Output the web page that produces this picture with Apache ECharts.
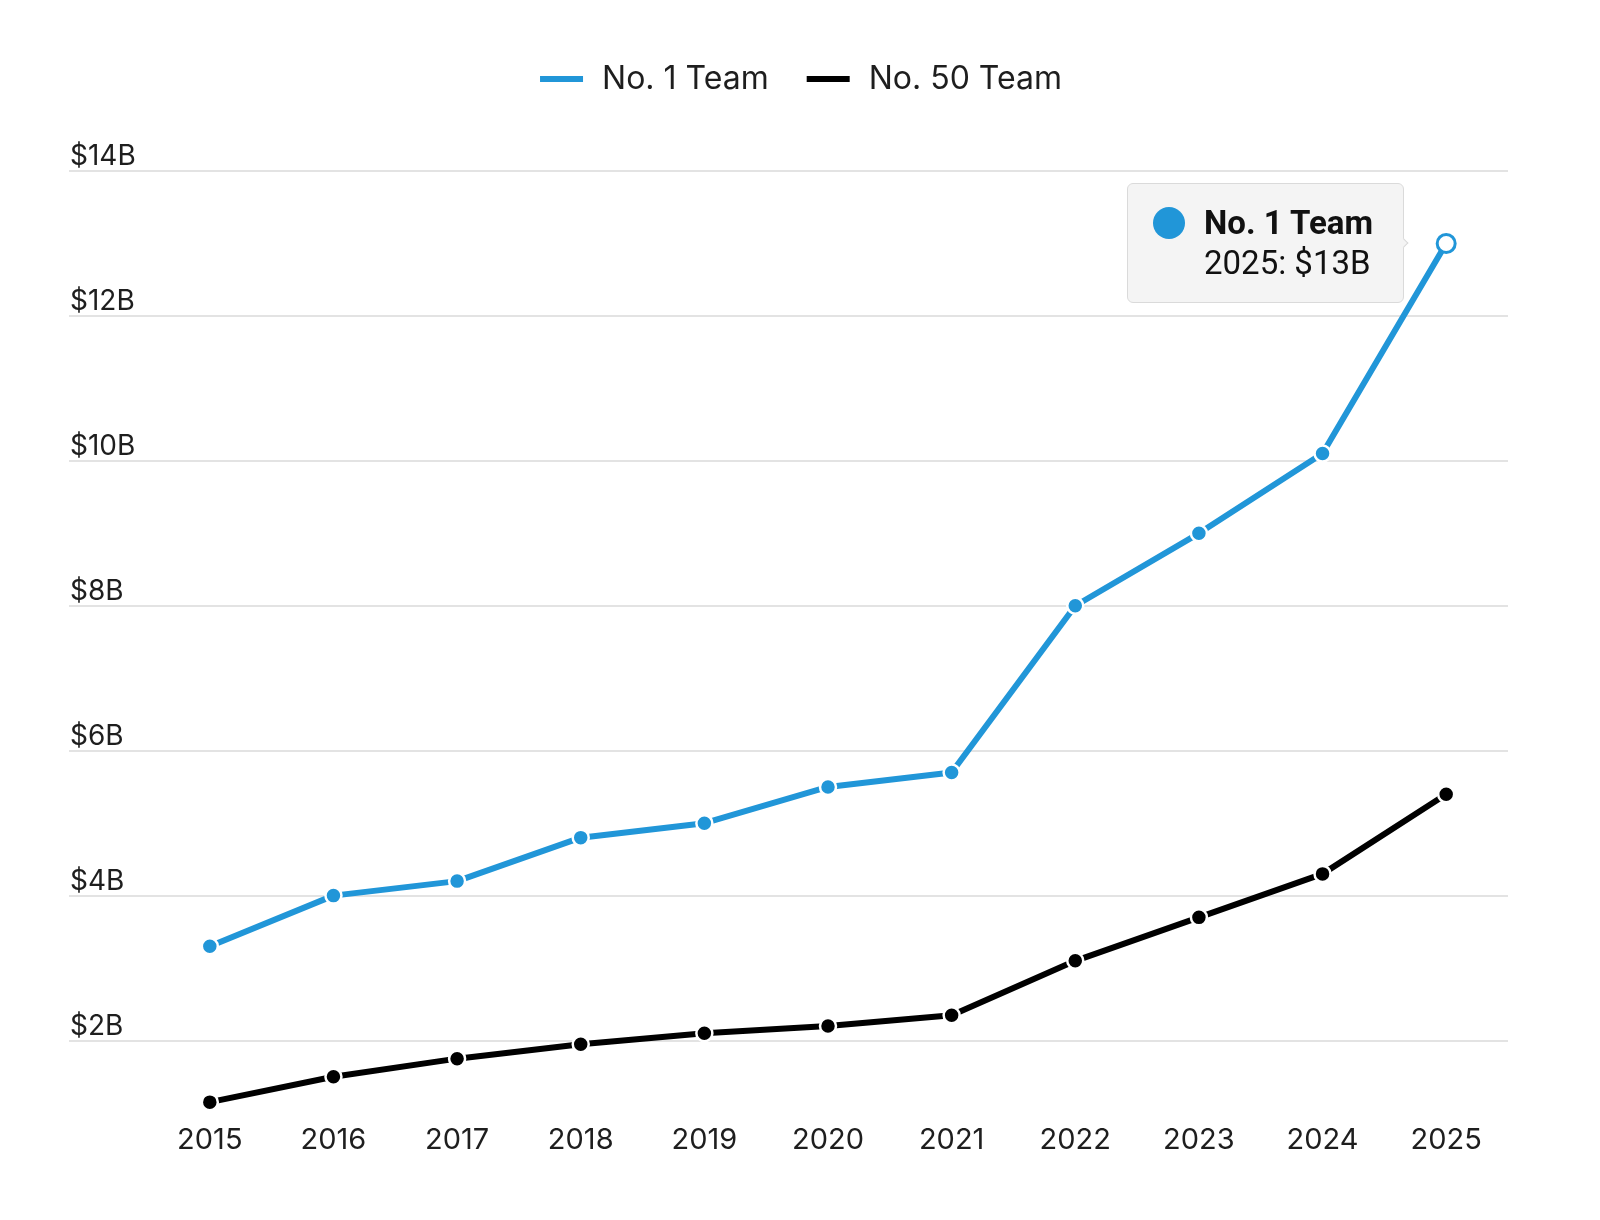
<!DOCTYPE html>
<html><head><meta charset="utf-8">
<script src="https://cdn.jsdelivr.net/npm/echarts@6/dist/echarts.min.js"></script>
<style>html,body{margin:0;padding:0;background:#fff}#c{width:1600px;height:1220px}</style>
</head><body><div id="c"></div>
<script>
const years = ['2015','2016','2017','2018','2019','2020','2021','2022','2023','2024','2025'];
const team1 = [3.3, 4.0, 4.2, 4.8, 5.0, 5.5, 5.7, 8.0, 9.0, 10.1, 13.0];
const team50 = [1.15, 1.5, 1.75, 1.95, 2.1, 2.2, 2.35, 3.1, 3.7, 4.3, 5.4];
const seriesNames = ['No. 1 Team', 'No. 50 Team'];
const seriesColors = ['#2196d8', '#000000'];
const yMin = 0, yMax = 14, yStep = 2, plotMin = 1;
const highlightIndex = 10;

const textColor = '#1e1e1e';
const font = 'Inter';

function buildData(vals, color, hl) {
  return vals.map((v, i) => (i === hl) ? {
    value: v, symbolSize: 18,
    itemStyle: {color: '#fff', borderColor: color, borderWidth: 3}
  } : v);
}

const chart = echarts.init(document.getElementById('c'), null, {renderer: 'canvas'});
chart.setOption({
  animation: false,
  backgroundColor: '#fff',
  legend: {
    top: 58, left: 'center',
    icon: 'rect', itemWidth: 45, itemHeight: 8, itemGap: 36,
    textStyle: {fontFamily: font, fontSize: 32, color: textColor, padding: [0, 0, 0, 13]},
    data: seriesNames
  },
  grid: [
    {left: 69, right: 92, top: 171, bottom: 34.3, containLabel: false},
    {left: 148, right: 92, top: 171, bottom: 107, containLabel: false}
  ],
  xAxis: [
    {gridIndex: 0, type: 'value', show: false},
    {gridIndex: 1, type: 'category', data: years, boundaryGap: true,
     axisLine: {show: false}, axisTick: {show: false},
     axisLabel: {fontFamily: font, fontSize: 29, color: textColor, margin: 13}}
  ],
  yAxis: [
    {gridIndex: 0, type: 'value', min: yMin, max: yMax, interval: yStep,
     axisLine: {show: false}, axisTick: {show: false},
     splitLine: {show: true, showMinLine: false, lineStyle: {color: '#e3e3e3', width: 2}},
     axisLabel: {inside: true, showMinLabel: false, margin: 1, verticalAlign: 'bottom',
       fontFamily: font, fontSize: 28, color: textColor, lineHeight: 29,
       formatter: v => '$' + v + 'B'}},
    {gridIndex: 1, type: 'value', min: plotMin, max: yMax, show: false}
  ],
  tooltip: {
    trigger: 'item', triggerOn: 'none', alwaysShowContent: true,
    position: 'left', transitionDuration: 0,
    backgroundColor: '#f4f4f4', borderColor: '#dadada', borderWidth: 1, borderRadius: 6,
    padding: [19, 30, 19, 25],
    extraCssText: 'box-shadow:none;margin-left:-22px;',
    formatter: p => {
      const c = seriesColors[p.seriesIndex];
      return '<div style="display:flex;align-items:flex-start;font-family:Roboto;font-size:33px;line-height:40px;color:#111">' +
        '<span style="display:inline-block;flex:none;width:32px;height:32px;border-radius:50%;background:' + c + ';margin-top:4px;margin-right:19px"></span>' +
        '<div><div style="font-weight:bold">' + p.seriesName + '</div>' +
        '<div>' + p.name + ': $' + p.value + 'B</div></div></div>';
    }
  },
  series: [
    {name: seriesNames[0], type: 'line', xAxisIndex: 1, yAxisIndex: 1,
     data: buildData(team1, seriesColors[0], highlightIndex),
     color: seriesColors[0], lineStyle: {width: 6, color: seriesColors[0]},
     symbol: 'circle', symbolSize: 16, showAllSymbol: true,
     itemStyle: {color: seriesColors[0], borderColor: '#fff', borderWidth: 2.5}, z: 3},
    {name: seriesNames[1], type: 'line', xAxisIndex: 1, yAxisIndex: 1,
     data: team50,
     color: seriesColors[1], lineStyle: {width: 6, color: seriesColors[1]},
     symbol: 'circle', symbolSize: 16, showAllSymbol: true,
     itemStyle: {color: seriesColors[1], borderColor: '#fff', borderWidth: 2.5}, z: 2}
  ]
});
chart.dispatchAction({type: 'showTip', seriesIndex: 0, dataIndex: highlightIndex});
</script></body></html>
